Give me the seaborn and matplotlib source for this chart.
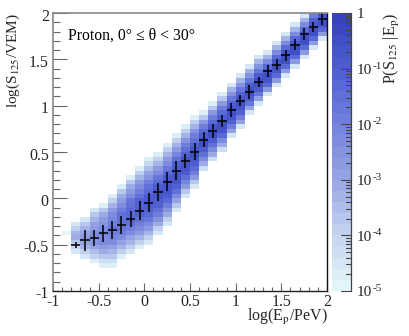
import matplotlib
matplotlib.use('Agg')
import matplotlib.pyplot as plt
import numpy as np
import pandas as pd
import seaborn as sns
from matplotlib.colors import LinearSegmentedColormap, LogNorm
from matplotlib.ticker import FixedLocator, FixedFormatter, NullFormatter
from matplotlib.transforms import ScaledTranslation

# energy bins (width 0.1), signal bins (width 0.05)
col_x = [-0.85, -0.75, -0.65, -0.55, -0.45, -0.35, -0.25, -0.15, -0.05, 0.05,
         0.15, 0.25, 0.35, 0.45, 0.55, 0.65, 0.75, 0.85, 0.95, 1.05,
         1.15, 1.25, 1.35, 1.45, 1.55, 1.65, 1.75, 1.85, 1.95]
col_bottom = [-0.40, -0.60, -0.65, -0.70, -0.75, -0.75, -0.65, -0.60, -0.55, -0.50,
              -0.40, -0.30, -0.15, 0.00, 0.10, 0.30, 0.40, 0.50, 0.65, 0.75,
              0.90, 1.00, 1.10, 1.20, 1.30, 1.40, 1.50, 1.60, 1.70]
# log10 P per column, bottom to top
col_logp = [
    [-4.9],
    [-4.5, -4.1, -3.6, -3.1, -3.4, -3.9, -4.4],
    [-4.4, -3.9, -3.4, -2.9, -2.7, -2.9, -3.3, -3.8, -4.4],
    [-4.7, -4.0, -3.5, -3.0, -2.6, -2.4, -2.4, -2.7, -3.0, -3.4, -3.8, -4.4],
    [-4.8, -4.2, -3.7, -3.2, -2.8, -2.4, -2.2, -2.1, -2.2, -2.5, -2.8, -3.2, -3.8, -4.7],
    [-4.8, -4.3, -3.8, -3.3, -2.9, -2.4, -2.1, -1.9, -1.8, -1.9, -2.1, -2.4, -2.8, -3.3, -3.9, -4.7],
    [-4.7, -4.0, -3.4, -2.9, -2.4, -2.0, -1.7, -1.6, -1.5, -1.6, -1.9, -2.3, -2.7, -3.2, -3.8, -4.7],
    [-4.6, -4.0, -3.4, -2.9, -2.4, -1.9, -1.6, -1.4, -1.3, -1.3, -1.5, -1.8, -2.2, -2.7, -3.2, -3.8, -4.7],
    [-4.7, -4.0, -3.4, -2.8, -2.3, -1.9, -1.5, -1.2, -1.1, -1.1, -1.2, -1.5, -1.9, -2.3, -2.8, -3.3, -3.9, -4.7],
    [-4.6, -4.0, -3.4, -2.8, -2.3, -1.8, -1.4, -1.1, -0.9, -0.9, -1.0, -1.3, -1.6, -2.0, -2.5, -3.0, -3.5, -4.1, -4.8],
    [-4.6, -3.9, -3.2, -2.6, -2.0, -1.5, -1.1, -0.9, -0.8, -0.8, -1.0, -1.3, -1.7, -2.2, -2.8, -3.4, -4.0, -4.8],
    [-4.6, -3.9, -3.2, -2.5, -1.9, -1.4, -1.0, -0.8, -0.7, -0.8, -1.0, -1.3, -1.7, -2.2, -2.8, -3.4, -4.0, -4.8],
    [-4.5, -3.7, -2.9, -2.2, -1.6, -1.1, -0.8, -0.7, -0.7, -0.9, -1.2, -1.6, -2.1, -2.7, -3.3, -4.0, -4.8],
    [-4.5, -3.6, -2.8, -2.1, -1.5, -1.0, -0.7, -0.7, -0.8, -1.1, -1.5, -2.0, -2.6, -3.3, -4.0, -4.8],
    [-4.5, -3.6, -2.8, -2.0, -1.4, -0.9, -0.7, -0.6, -0.8, -1.1, -1.5, -2.0, -2.6, -3.3, -4.0, -4.8],
    [-4.2, -3.2, -2.3, -1.5, -0.9, -0.6, -0.6, -0.9, -1.4, -2.0, -2.7, -3.6, -4.7],
    [-4.2, -3.2, -2.2, -1.5, -0.9, -0.6, -0.6, -0.8, -1.3, -2.0, -2.7, -3.6, -4.7],
    [-4.2, -3.1, -2.2, -1.4, -0.8, -0.6, -0.6, -0.9, -1.4, -2.0, -2.7, -3.6, -4.7],
    [-4.4, -3.0, -2.0, -1.2, -0.7, -0.5, -0.7, -1.1, -1.7, -2.5, -3.4, -4.6],
    [-4.4, -3.0, -2.0, -1.2, -0.7, -0.5, -0.7, -1.1, -1.7, -2.5, -3.4, -4.6],
    [-4.5, -2.9, -1.7, -0.9, -0.5, -0.6, -1.0, -1.7, -2.5, -3.4, -4.6],
    [-4.5, -2.9, -1.7, -0.9, -0.5, -0.6, -1.0, -1.7, -2.5, -3.4, -4.6],
    [-4.6, -2.8, -1.4, -0.7, -0.5, -0.8, -1.4, -2.2, -3.3, -4.6],
    [-4.6, -2.8, -1.4, -0.7, -0.5, -0.8, -1.4, -2.2, -3.3, -4.6],
    [-4.6, -2.8, -1.3, -0.6, -0.5, -0.8, -1.4, -2.2, -3.3, -4.6],
    [-4.6, -2.8, -1.3, -0.6, -0.5, -0.8, -1.4, -2.2, -3.3, -4.6],
    [-4.6, -2.8, -1.3, -0.6, -0.5, -0.8, -1.4, -2.2, -3.3, -4.6],
    [-4.6, -2.8, -1.3, -0.6, -0.5, -0.7, -1.2, -1.9],
    [-4.6, -2.8, -1.3, -0.6, -0.5, -0.7],
]

# profile points: energy, mean signal, spread
prof_x = [-0.75, -0.65, -0.55, -0.45, -0.35, -0.25, -0.15, -0.05, 0.05, 0.15,
          0.25, 0.35, 0.45, 0.55, 0.65, 0.75, 0.85, 0.95, 1.05, 1.15,
          1.25, 1.35, 1.45, 1.55, 1.65, 1.75, 1.85, 1.95]
prof_y = [-0.504, -0.453, -0.428, -0.378, -0.342, -0.288, -0.223, -0.134, -0.047, 0.065,
          0.18, 0.298, 0.406, 0.503, 0.634, 0.726, 0.834, 0.952, 1.053, 1.145,
          1.253, 1.377, 1.441, 1.543, 1.657, 1.772, 1.851, 1.938]
prof_err = [0.036, 0.11, 0.087, 0.095, 0.093, 0.097, 0.09, 0.10, 0.104, 0.097,
            0.10, 0.10, 0.075, 0.09, 0.085, 0.08, 0.063, 0.075, 0.06, 0.075,
            0.055, 0.063, 0.06, 0.063, 0.06, 0.063, 0.054, 0.07]

x_edges = np.round(np.arange(-1, 2.01, 0.1), 2)
y_edges = np.round(np.arange(-1, 2.01, 0.05), 2)

sns.set_theme(style='white')
plt.rcParams['font.family'] = ['Liberation Serif', 'DejaVu Serif']
plt.rcParams['mathtext.fontset'] = 'stix'

W, H = 409, 336
fig = plt.figure(figsize=(W / 100, H / 100), dpi=100)
rect = [53 / W, 1 - 291 / H, 274 / W, 278 / H]
ax = fig.add_axes(rect)
cax = fig.add_axes([331.5 / W, 1 - 291 / H, 19 / W, 278 / H])

# fill histogram table from the columns
table = np.full((len(y_edges) - 1, len(x_edges) - 1), np.nan)
for x, low, vals in zip(col_x, col_bottom, col_logp):
    i = int(round((x + 0.95) / 0.1))
    j0 = int(round((low + 1) / 0.05))
    for k, v in enumerate(vals):
        if j0 + k < table.shape[0]:
            table[j0 + k, i] = 10.0 ** v
df = pd.DataFrame(table)

colors = ['#e2f5f8', '#c3d2f0', '#96a5e2', '#7382dc', '#5060d2', '#3742be']
cmap = LinearSegmentedColormap.from_list('pal', colors, N=25)
sns.heatmap(df, ax=ax, cbar_ax=cax, cmap=cmap, norm=LogNorm(1e-5, 1),
            xticklabels=False, yticklabels=False, linewidths=0)
ax.set_ylim(0, table.shape[0])
ax.set_xlim(0, table.shape[1])
ax.set_ylabel('')
ax.set_xlabel('')
for s in ax.spines.values():
    s.set_visible(False)

# overlay with real data units for frame, ticks, crosses
top = fig.add_axes(rect, facecolor='none')
top.set_xlim(-1, 2)
top.set_ylim(-1, 2)
top.errorbar(prof_x, prof_y, xerr=0.05, yerr=prof_err, fmt='none',
             ecolor='black', elinewidth=1.1, capsize=0)

major = [-1, -0.5, 0, 0.5, 1, 1.5, 2]
major_txt = ['-1', '-0.5', '0', '0.5', '1', '1.5', '2']
minor = [v for v in np.round(np.arange(-1, 2.01, 0.1), 1) if v not in major]
for axis in (top.xaxis, top.yaxis):
    axis.set_major_locator(FixedLocator(major))
    axis.set_major_formatter(FixedFormatter(major_txt))
    axis.set_minor_locator(FixedLocator(minor))
    axis.set_minor_formatter(NullFormatter())
top.tick_params(axis='x', which='major', direction='in', length=6, width=0.8, color='#666666',
                labelsize=11.5, pad=2, bottom=True)
top.tick_params(axis='x', which='minor', direction='in', length=3, width=0.8, color='#666666', bottom=True)
top.tick_params(axis='y', which='major', direction='in', length=10, width=0.8, color='#666666',
                labelsize=11.5, pad=3, left=True)
top.tick_params(axis='y', which='minor', direction='in', length=5, width=0.8, color='#666666', left=True)
for lab in top.get_yticklabels():
    lab.set_transform(lab.get_transform() + ScaledTranslation(0, -1.5 / 100, fig.dpi_scale_trans))
for name, col, lw in (('left', '#888888', 1.2), ('top', '#888888', 1.2),
                      ('right', '#111111', 1.0), ('bottom', '#222222', 1.0)):
    top.spines[name].set_visible(True)
    top.spines[name].set_color(col)
    top.spines[name].set_linewidth(lw)

top.text(-0.84, 1.76, 'Proton, 0\u00b0 \u2264 \u03b8 < 30\u00b0', fontsize=11.3, color='black',
         va='center', ha='left')
fig.text(13 / W, 1 - 13 / H, r'log(S$_{125}$/VEM)', rotation=90, fontsize=11,
         ha='center', va='top')
fig.text(328 / W, 1 - 317 / H, r'log(E$_{\mathrm{p}}$/PeV)', fontsize=11.5, ha='right', va='center')

# colour scale
cb = ax.collections[0].colorbar
cb.outline.set_visible(False)
cax.set_yscale('log')
cax.set_ylim(1e-5, 1)
cax.set_yticks([])
cax.minorticks_off()
cax.yaxis.set_major_locator(FixedLocator([]))
cax.yaxis.set_minor_locator(FixedLocator([]))
cb_major = [1e-5, 1e-4, 1e-3, 1e-2, 1e-1, 1]
cb_exp = ['-5', '-4', '-3', '-2', '-1']
cb_minor = [m * 10.0 ** e for e in range(-5, 0) for m in range(2, 10)]
tr = cax.get_yaxis_transform()
for v, ln in [(t, 10) for t in cb_major] + [(t, 5) for t in cb_minor]:
    cax.plot([1.0, 1.0 - ln / 19], [v, v], color='#444444', lw=0.8, transform=tr,
             clip_on=False, zorder=5)
cax.set_ylim(1e-5, 1)
down = ScaledTranslation(0, -2 / 100, fig.dpi_scale_trans)
for v, e in zip(cb_major[:-1], cb_exp):
    cax.text(1.32, v, '10', fontsize=11, ha='left', va='center', transform=tr + down)
    cax.text(2.15, v, e, fontsize=8, ha='left', va='bottom', transform=tr + down)
cax.text(1.32, 1, '1', fontsize=11, ha='left', va='center', transform=tr + down)
cax.spines['right'].set_visible(True)
cax.spines['right'].set_color('#444444')
cax.spines['right'].set_linewidth(0.9)
fig.text(392 / W, 1 - 13 / H, r'P(S$_{125}$ |E$_{\mathrm{p}}$)', rotation=90, fontsize=11.5,
         ha='center', va='top')

fig.savefig('out.png', dpi=100)
